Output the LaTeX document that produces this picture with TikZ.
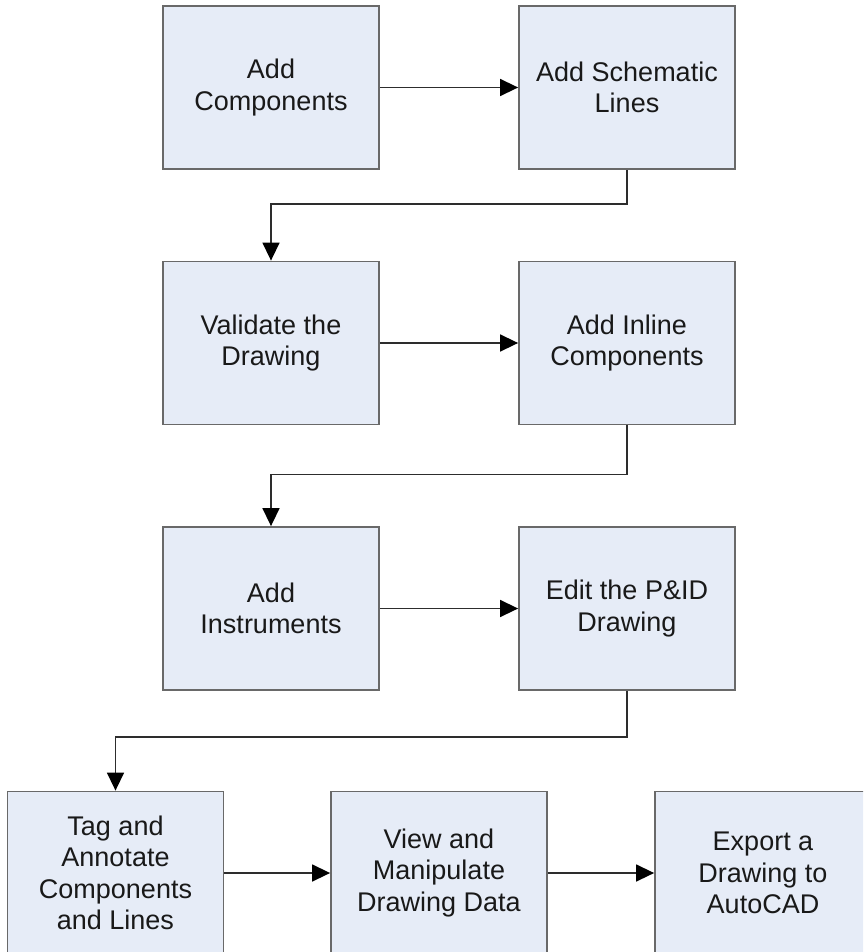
\documentclass[tikz,border=0pt]{standalone}
\usepackage{fontspec}
\setmainfont{Liberation Sans}
\usetikzlibrary{arrows.meta}
\definecolor{boxfill}{RGB}{230,236,247}
\definecolor{boxline}{RGB}{105,105,105}
\definecolor{connline}{RGB}{45,45,45}
\definecolor{txt}{RGB}{25,25,25}
\begin{document}
\begin{tikzpicture}[x=1pt,y=-1pt,
  stepbox/.style={draw=boxline, fill=boxfill, line width=1.8pt,
    minimum width=216pt, minimum height=163pt, inner sep=0pt,
    align=center, text=txt, font=\fontsize{27}{31.5}\selectfont},
  conn/.style={draw=connline, line width=1.5pt,
    -{Triangle[length=18pt,width=17pt,color=black]}}]
\clip (0,0) rectangle (863,952);
\node[stepbox] (b1) at (271,87.5) {Add\\Components};
\node[stepbox] (b2) at (627,87.5) {Add Schematic\\Lines};
\node[stepbox] (b3) at (271,343) {Validate the\\Drawing};
\node[stepbox] (b4) at (627,343) {Add Inline\\Components};
\node[stepbox] (b5) at (271,608.5) {Add\\Instruments};
\node[stepbox] (b6) at (627,608.5) {Edit the P\&ID\\Drawing};
\node[stepbox] (b7) at (115.5,873) {Tag and\\Annotate\\Components\\and Lines};
\node[stepbox] (b8) at (439,873) {View and\\Manipulate\\Drawing Data};
\node[stepbox] (b9) at (763,873) {Export a\\Drawing to\\AutoCAD};
\draw[conn] (b1) -- (b2);
\draw[conn] (b3) -- (b4);
\draw[conn] (b5) -- (b6);
\draw[conn] (b7) -- (b8);
\draw[conn] (b8) -- (b9);
\draw[conn] (b2.south) -- ++(0,34) -| (b3.north);
\draw[conn] (b4.south) -- ++(0,49) -| (b5.north);
\draw[conn] (b6.south) -- ++(0,46) -| (b7.north);
\end{tikzpicture}
\end{document}
